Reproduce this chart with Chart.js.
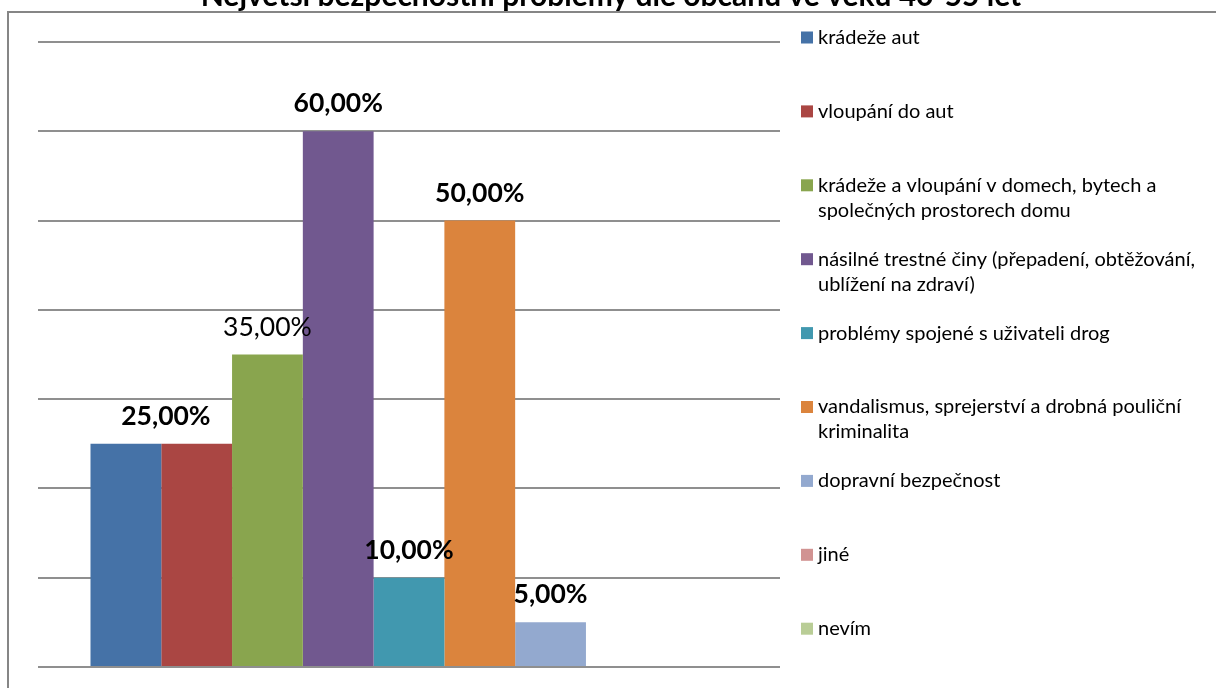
<!DOCTYPE html>
<html>
<head>
<meta charset="utf-8">
<script src="https://cdn.jsdelivr.net/npm/chart.js@4"></script>
<style>
  html, body { margin: 0; padding: 0; background: #fff; }
  #wrap { width: 1216px; height: 688px; position: relative; }
</style>
</head>
<body>
<div id="wrap"><canvas id="crimeChart" width="1216" height="688"></canvas></div>
<script>
const chartTitle = 'Největší bezpečnostní problémy dle občanů ve věku 40-55 let';
const seriesNames = [
    'krádeže aut',
    'vloupání do aut',
    'krádeže a vloupání v domech, bytech a společných prostorech domu',
    'násilné trestné činy (přepadení, obtěžování, ublížení na zdraví)',
    'problémy spojené s uživateli drog',
    'vandalismus, sprejerství a drobná pouliční kriminalita',
    'dopravní bezpečnost',
    'jiné',
    'nevím'
];
const seriesValues = [0.25, 0.25, 0.35, 0.60, 0.10, 0.50, 0.05, 0, 0];
const seriesColors = ['#4572A7', '#AA4643', '#89A54E', '#71588F', '#4198AF', '#DB843D', '#93A9CF', '#D19392', '#B9CD96'];
const yTicks = [0, 0.1, 0.2, 0.3, 0.4, 0.5, 0.6, 0.7];

function pct(v) {
    return (v * 100).toFixed(2).replace('.', ',') + '%';
}

// border, title, value labels and the legend on the right
const decorPlugin = {
    id: 'decor',
    afterDatasetsDraw(chart) {
        const ctx = chart.ctx;
        ctx.save();

        // value labels
        chart.data.datasets.forEach((ds, i) => {
            const v = ds.data[0];
            if (!v) return;
            if (i === 1) return; // same as first one, Excel drew only one
            const bar = chart.getDatasetMeta(i).data[0];
            let x = bar.x;
            if (i === 0) x += 40;
            ctx.font = (i === 2 ? '' : 'bold ') + '26.5px Lato';
            ctx.fillStyle = '#000';
            ctx.textAlign = 'center';
            ctx.textBaseline = 'alphabetic';
            ctx.fillText(pct(v), x, bar.y - 19);
        });

        // frame
        ctx.strokeStyle = '#868686';
        ctx.lineWidth = 2;
        ctx.beginPath();
        ctx.moveTo(8, 700);
        ctx.lineTo(8, 12);
        ctx.lineTo(1230, 12);
        ctx.stroke();

        // title (top is cut off like in the source)
        ctx.font = 'bold 30px Lato';
        ctx.fillStyle = '#000';
        ctx.textAlign = 'center';
        ctx.fillText(chartTitle, 611, 6);

        // legend
        ctx.font = '20px Lato';
        ctx.textAlign = 'left';
        ctx.textBaseline = 'middle';
        const maxW = 395;
        chart.data.datasets.forEach((ds, i) => {
            const y0 = 37.5 + i * 73.9;
            ctx.fillStyle = ds.backgroundColor;
            ctx.fillRect(801, y0 - 6, 12, 12);
            ctx.fillStyle = '#000';
            const words = ds.label.split(' ');
            let line = '';
            let ly = y0;
            words.forEach(w => {
                const test = line ? line + ' ' + w : w;
                if (ctx.measureText(test).width > maxW && line) {
                    ctx.fillText(line, 818, ly);
                    line = w;
                    ly += 25;
                } else {
                    line = test;
                }
            });
            ctx.fillText(line, 818, ly);
        });
        ctx.restore();
    }
};

const ctx = document.getElementById('crimeChart').getContext('2d');
new Chart(ctx, {
    type: 'bar',
    data: {
        labels: [''],
        datasets: seriesNames.map((name, i) => ({
            label: name,
            data: [seriesValues[i]],
            backgroundColor: seriesColors[i],
            borderWidth: 0,
            barPercentage: 1,
            categoryPercentage: 0.8585
        }))
    },
    options: {
        responsive: false,
        animation: false,
        layout: { padding: { left: 38, right: 436, top: 42, bottom: 21 } },
        plugins: {
            legend: { display: false },
            title: { display: false },
            tooltip: { enabled: false }
        },
        scales: {
            x: {
                ticks: { display: false },
                grid: { display: false, drawTicks: false },
                border: { display: false }
            },
            y: {
                min: 0,
                max: 0.7,
                afterBuildTicks: axis => { axis.ticks = yTicks.map(v => ({ value: v })); },
                ticks: { display: false },
                grid: { color: '#8f8f8f', lineWidth: 2, drawTicks: false },
                border: { display: false }
            }
        }
    },
    plugins: [decorPlugin]
});
</script>
</body>
</html>
